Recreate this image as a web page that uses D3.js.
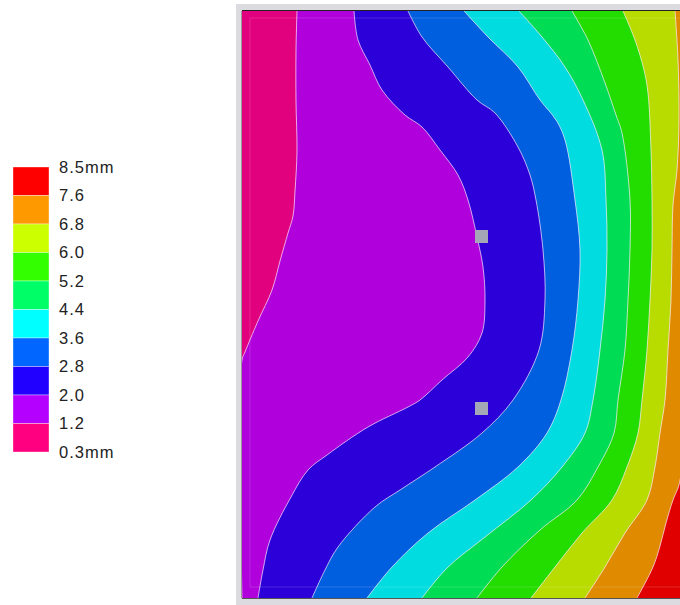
<!DOCTYPE html>
<html>
<head>
<meta charset="utf-8">
<script src="https://cdn.jsdelivr.net/npm/d3@7"></script>
<style>
body { margin: 0; background: #fff; }
svg { display: block; font-family: "Liberation Sans", Arial, sans-serif; }
</style>
</head>
<body>
<div id="chart"></div>
<script>
// legend limits, top of the legend first
var legendLabels = ["8.5mm", "7.6", "6.8", "6.0", "5.2", "4.4", "3.6", "2.8", "2.0", "1.2", "0.3mm"];
// band colours, lowest band first (legend / plate shading)
var bandColors = ["#ff0080", "#b300ff", "#2200ff", "#0066ff", "#00ffff", "#00ff66", "#33ff00", "#ccff00", "#ff9900", "#ff0000"];
var plateColors = ["#e1007d", "#b000dc", "#2c00d8", "#005fdf", "#00dcdf", "#00dd55", "#23dc00", "#b9dc00", "#e08a00", "#e00000"];

// contour lines, [x, y] in plate units (0-440 across, 0-587 down)
var c12 = [[55,0],[54,40],[54,90],[55,140],[53,180],[51,205],[46,222],[38,250],[30,279],[16,310],[3,341],[0,349],[0,587]];
var c20 = [[112,0],[116,29],[128,54],[140,79],[163,104],[180,116],[198,139],[216,164],[226,189],[235,226],[241,256],[243,289],[240,322],[226,346],[200,369],[178,389],[166,396],[126,416],[85,444],[66,459],[49,486],[28,529],[21,559],[16,587]];
var c28 = [[166,0],[180,26],[206,56],[235,89],[253,102],[276,136],[288,164],[294,189],[301,239],[303,289],[297,339],[271,389],[240,422],[193,456],[158,479],[133,496],[96,536],[83,559],[70,587]];
var c36 = [[222,0],[246,26],[276,56],[298,89],[314,109],[323,129],[333,189],[338,239],[336,289],[330,339],[319,389],[305,422],[276,456],[233,489],[186,522],[150,556],[125,587]];
var c44 = [[277,0],[300,26],[323,56],[341,89],[360,139],[364,189],[365,239],[363,289],[358,339],[351,389],[343,422],[320,456],[289,489],[243,526],[205,557],[180,587]];
var c52 = [[330,0],[346,29],[363,72],[374,104],[380,122],[388,189],[388,239],[386,289],[383,339],[376,389],[372,422],[356,456],[335,489],[298,519],[260,556],[235,587]];
var c60 = [[381,0],[393,29],[402,59],[406,82],[409,139],[410,189],[410,239],[408,289],[405,339],[400,389],[396,422],[385,456],[370,489],[340,522],[313,556],[289,587]];
var c68 = [[433,0],[436,49],[437,109],[435,159],[431,194],[430,239],[429,289],[426,339],[423,389],[418,422],[413,456],[405,489],[383,522],[363,556],[343,587]];
var c76 = [[440,455],[437,474],[431,489],[424,512],[418,535],[411,556],[395,587]];
var contours = [c12, c20, c28, c36, c44, c52, c60, c68, c76];

// gauge points
var probes = [[239.5,225.5],[239.5,397.5]];

var width = 680, height = 605;
var svg = d3.select("#chart").append("svg")
    .attr("width", width)
    .attr("height", height);

var x = d3.scaleLinear().domain([0, 440]).range([242, 682]);
var y = d3.scaleLinear().domain([0, 587]).range([11, 598]);

// grey frame around the plate
svg.append("rect")
    .attr("x", 236).attr("y", 4)
    .attr("width", 446).attr("height", 601)
    .style("fill", "#dcdce0");

svg.append("clipPath").attr("id", "plate")
  .append("rect")
    .attr("x", x(0)).attr("y", y(0))
    .attr("width", x(440) - x(0)).attr("height", y(587) - y(0));

var plate = svg.append("g").attr("clip-path", "url(#plate)");

plate.append("rect")
    .attr("x", x(0)).attr("y", y(0))
    .attr("width", x(440) - x(0)).attr("height", y(587) - y(0))
    .style("fill", plateColors[0]);

var line = d3.line()
    .x(function(d) { return x(d[0]); })
    .y(function(d) { return y(d[1]); })
    .curve(d3.curveCatmullRom.alpha(0.5));

// each band fills everything right of its lower contour
plate.selectAll(".band")
    .data(contours)
    .enter()
    .append("path")
    .attr("class", "band")
    .attr("d", function(d) {
        return line(d) + "L" + x(440) + "," + y(587) + "L" + x(440) + "," + y(0) + "Z";
    })
    .style("fill", function(d, i) { return plateColors[i + 1]; });

plate.selectAll(".iso")
    .data(contours)
    .enter()
    .append("path")
    .attr("class", "iso")
    .attr("d", line)
    .style("fill", "none")
    .style("stroke", "rgba(255,235,255,0.7)")
    .style("stroke-width", 1);

// faint inner frame
plate.append("rect")
    .attr("x", x(8)).attr("y", y(7))
    .attr("width", x(440) - x(8)).attr("height", y(576) - y(7))
    .style("fill", "none")
    .style("stroke", "rgba(255,255,255,0.15)");

plate.selectAll(".probe")
    .data(probes)
    .enter()
    .append("rect")
    .attr("class", "probe")
    .attr("x", function(d) { return x(d[0]) - 6.5; })
    .attr("y", function(d) { return y(d[1]) - 6.5; })
    .attr("width", 13)
    .attr("height", 13)
    .style("fill", "#a4a7b6");

svg.append("line")
    .attr("x1", x(0)).attr("x2", x(440))
    .attr("y1", y(0) - 0.5).attr("y2", y(0) - 0.5)
    .style("stroke", "#222");
svg.append("line")
    .attr("x1", x(0)).attr("x2", x(440))
    .attr("y1", y(587) + 0.5).attr("y2", y(587) + 0.5)
    .style("stroke", "#555");
svg.append("line")
    .attr("x1", x(0) - 0.5).attr("x2", x(0) - 0.5)
    .attr("y1", y(0)).attr("y2", y(587))
    .style("stroke", "#999");

// legend
var ly = d3.scalePoint().domain(legendLabels).range([167, 452]);
var swatches = legendLabels.slice(0, -1);

svg.selectAll(".swatch")
    .data(swatches)
    .enter()
    .append("rect")
    .attr("class", "swatch")
    .attr("x", 13)
    .attr("y", function(d) { return ly(d); })
    .attr("width", 36)
    .attr("height", function(d, i) { return ly(legendLabels[i + 1]) - ly(d); })
    .style("fill", function(d, i) { return bandColors[bandColors.length - 1 - i]; })
    .style("stroke", "rgba(255,255,255,0.6)")
    .style("stroke-width", 0.6);

svg.selectAll(".label")
    .data(legendLabels)
    .enter()
    .append("text")
    .attr("class", "label")
    .attr("x", 59)
    .attr("y", function(d) { return ly(d); })
    .attr("dy", "0.36em")
    .style("font-size", "16.5px")
    .style("letter-spacing", "1px")
    .style("fill", "#222")
    .text(function(d) { return d; });
</script>
</body>
</html>
